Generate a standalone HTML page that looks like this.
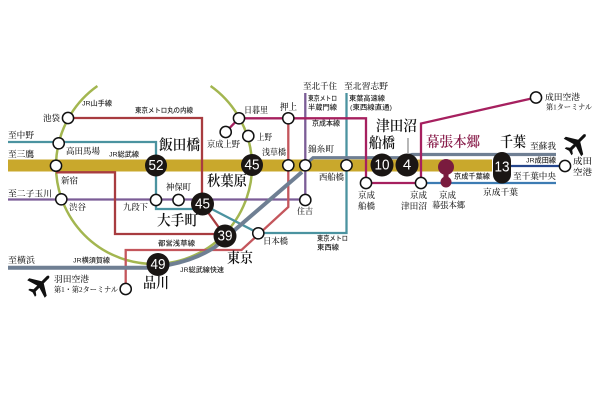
<!DOCTYPE html>
<html><head><meta charset="utf-8"><style>
html,body{margin:0;padding:0;background:#fff}
svg{display:block}
text{font-family:"Liberation Serif","Noto Serif CJK JP",serif;fill:#1a1a1a;dominant-baseline:central;font-size:8.5px;font-weight:500}
.s{font-family:"Liberation Sans","Noto Sans CJK JP",sans-serif;font-size:6.8px;font-weight:500;fill:#222}
.b{font-size:14.5px;font-weight:600;fill:#111}
.n{font-family:"Liberation Sans",sans-serif;fill:#fff;font-size:15px;text-anchor:middle;font-weight:400}
circle.w{fill:#fff;stroke:#111;stroke-width:1.5}
circle.k{fill:#1a1614}
.l{fill:none;stroke-linejoin:miter}
</style></head><body>
<svg width="600" height="400" viewBox="0 0 600 400" xmlns="http://www.w3.org/2000/svg">
<rect width="600" height="400" fill="#fff"/>
<rect x="8" y="159.5" width="484" height="12" fill="#c9a82c"/>
<path class="l" d="M97.4 86A98 98 0 1 0 210.6 86" stroke="#a3b650" stroke-width="2.5"/>
<path class="l" d="M8 142H156V209H195" stroke="#4b93a0" stroke-width="2.3"/>
<path class="l" d="M202 204L258 233H346.5V93" stroke="#4b93a0" stroke-width="2.3"/>
<path class="l" d="M8 199.5H305.3M305.3 93V199.5" stroke="#7b5c96" stroke-width="2.3"/>
<path class="l" d="M68 118H202V204L225 236" stroke="#a83c40" stroke-width="2.3"/>
<path class="l" d="M56 172.3H115V234H225" stroke="#a83c40" stroke-width="2.3"/>
<path class="l" d="M125.7 289V250H241.5L288.3 207V118" stroke="#c4565c" stroke-width="2.3"/>
<path class="l" d="M8 267.7H150" stroke="#6f7f93" stroke-width="4"/>
<path class="l" d="M168 265Q195 260 215 247L302 172" stroke="#6f7f93" stroke-width="4"/>
<path class="l" d="M305 165L313 157.7H400L412 154.5H556" stroke="#6f7f93" stroke-width="3.2"/>
<path class="l" d="M421 183H556" stroke="#3d7cb3" stroke-width="2.2"/>
<path class="l" d="M510 166H565" stroke="#25468c" stroke-width="2.2"/>
<path class="l" d="M225.7 132L239 118.3H366V183H421" stroke="#a6205f" stroke-width="2.3"/>
<path class="l" d="M421 183V123.5L536 97.5" stroke="#a6205f" stroke-width="2.3"/>
<path d="M408 138V153" stroke="#333" stroke-width="0.7"/>
<circle cx="446" cy="167" r="8" fill="#7a1b3e"/><circle cx="446" cy="182" r="5.5" fill="#7a1b3e"/><rect x="443.5" y="172" width="5" height="8" fill="#7a1b3e"/>
<rect x="493" y="152" width="18" height="31.5" rx="9" fill="#1a1614"/>
<g>
<circle class="k" cx="156" cy="165.5" r="11"/><circle class="k" cx="252" cy="165" r="11"/><circle class="k" cx="202.5" cy="204" r="11.5"/><circle class="k" cx="225" cy="236" r="11.5"/><circle class="k" cx="158" cy="264.5" r="11.5"/><circle class="k" cx="382" cy="165" r="11.5"/><circle class="k" cx="407" cy="165" r="11.5"/>
<text class="n" x="156" y="165.5" textLength="15" lengthAdjust="spacingAndGlyphs">52</text>
<text class="n" x="252" y="165" textLength="15" lengthAdjust="spacingAndGlyphs">45</text>
<text class="n" x="202.5" y="204" textLength="15" lengthAdjust="spacingAndGlyphs">45</text>
<text class="n" x="225" y="236" textLength="15" lengthAdjust="spacingAndGlyphs">39</text>
<text class="n" x="158" y="264.5" textLength="15" lengthAdjust="spacingAndGlyphs">49</text>
<text class="n" x="382" y="165" textLength="15" lengthAdjust="spacingAndGlyphs">10</text>
<text class="n" x="407" y="165">4</text>
<text class="n" x="502" y="167" textLength="15" lengthAdjust="spacingAndGlyphs">13</text>
</g>
<g>
<circle class="w" cx="68" cy="118" r="5.6"/><circle class="w" cx="58.7" cy="143.3" r="5.6"/><circle class="w" cx="56" cy="165.7" r="5.6"/><circle class="w" cx="61.3" cy="199.3" r="5.6"/><circle class="w" cx="156" cy="200" r="5.6"/><circle class="w" cx="178.5" cy="200" r="5.6"/><circle class="w" cx="239" cy="118.3" r="5.6"/><circle class="w" cx="225.7" cy="132" r="5.6"/><circle class="w" cx="248.3" cy="136" r="5.6"/><circle class="w" cx="288.3" cy="118.3" r="5.6"/><circle class="w" cx="288.3" cy="165.3" r="5.6"/><circle class="w" cx="305.3" cy="165.3" r="5.6"/><circle class="w" cx="346.5" cy="165.3" r="5.6"/><circle class="w" cx="366" cy="183" r="5.6"/><circle class="w" cx="421" cy="183" r="5.6"/><circle class="w" cx="305.3" cy="200" r="5.6"/><circle class="w" cx="258.3" cy="233.3" r="5.6"/><circle class="w" cx="125.7" cy="289" r="5.6"/><circle class="w" cx="536" cy="97.5" r="5.6"/><circle class="w" cx="565" cy="166" r="5.6"/>
</g>
<g fill="#111">
<path transform="translate(40 285) rotate(45) scale(0.95)" d="M-1.6-12Q0-15 1.6-12V-4L13 3V6L1.6 2.5V8L5 10.5V12.5L0 11L-5 12.5V10.5L-1.6 8V2.5L-13 6V3L-1.6-4Z"/>
<path transform="translate(576.5 143.5) rotate(45) scale(0.95)" d="M-1.6-12Q0-15 1.6-12V-4L13 3V6L1.6 2.5V8L5 10.5V12.5L0 11L-5 12.5V10.5L-1.6 8V2.5L-13 6V3L-1.6-4Z"/>
</g>
<text x="8" y="135" textLength="26" lengthAdjust="spacingAndGlyphs">至中野</text>
<text x="8" y="154" textLength="26" lengthAdjust="spacingAndGlyphs">至三鷹</text>
<text x="8" y="193.5" textLength="44" lengthAdjust="spacingAndGlyphs">至二子玉川</text>
<text x="8" y="260" textLength="27" lengthAdjust="spacingAndGlyphs">至横浜</text>
<text x="43" y="118" textLength="17" lengthAdjust="spacingAndGlyphs">池袋</text>
<text x="66" y="151" textLength="34" lengthAdjust="spacingAndGlyphs">高田馬場</text>
<text x="61" y="180.5" textLength="17" lengthAdjust="spacingAndGlyphs">新宿</text>
<text x="69" y="207" textLength="17" lengthAdjust="spacingAndGlyphs">渋谷</text>
<text x="123" y="207" textLength="25" lengthAdjust="spacingAndGlyphs">九段下</text>
<text x="166" y="187" textLength="25" lengthAdjust="spacingAndGlyphs">神保町</text>
<text class="s" x="82" y="104" textLength="30" lengthAdjust="spacingAndGlyphs">JR山手線</text>
<text class="s" x="135" y="111" textLength="58" lengthAdjust="spacingAndGlyphs">東京メトロ丸の内線</text>
<text class="s" x="109" y="155" textLength="30" lengthAdjust="spacingAndGlyphs">JR総武線</text>
<text class="s" x="73" y="261" textLength="37" lengthAdjust="spacingAndGlyphs">JR横須賀線</text>
<text class="s" x="158" y="244" textLength="37" lengthAdjust="spacingAndGlyphs">都営浅草線</text>
<text class="s" x="180" y="270.7" textLength="44" lengthAdjust="spacingAndGlyphs">JR総武線快速</text>
<text class="b" x="159" y="146" textLength="41" lengthAdjust="spacingAndGlyphs">飯田橋</text>
<text class="b" x="207" y="182" textLength="40" lengthAdjust="spacingAndGlyphs">秋葉原</text>
<text class="b" x="157" y="221.7" textLength="41" lengthAdjust="spacingAndGlyphs">大手町</text>
<text class="b" x="227" y="259" textLength="26" lengthAdjust="spacingAndGlyphs">東京</text>
<text class="b" x="143" y="284" textLength="26" lengthAdjust="spacingAndGlyphs">品川</text>
<text x="54" y="279" textLength="35" lengthAdjust="spacingAndGlyphs">羽田空港</text>
<text x="54" y="289.5" style="font-size:7.5px" textLength="64" lengthAdjust="spacingAndGlyphs">第1・第2ターミナル</text>
<text x="244" y="110" textLength="24" lengthAdjust="spacingAndGlyphs">日暮里</text>
<text x="257" y="137" textLength="15" lengthAdjust="spacingAndGlyphs">上野</text>
<text x="207" y="144" textLength="33" lengthAdjust="spacingAndGlyphs">京成上野</text>
<text x="280" y="107" style="font-size:9px" textLength="17" lengthAdjust="spacingAndGlyphs">押上</text>
<text x="262" y="152" textLength="24" lengthAdjust="spacingAndGlyphs">浅草橋</text>
<text x="308" y="149" textLength="26" lengthAdjust="spacingAndGlyphs">錦糸町</text>
<text x="303" y="86" style="font-size:8.5px" textLength="34" lengthAdjust="spacingAndGlyphs">至北千住</text>
<text x="344" y="86" style="font-size:8.5px" textLength="44" lengthAdjust="spacingAndGlyphs">至北習志野</text>
<text class="s" x="308" y="99" textLength="29" lengthAdjust="spacingAndGlyphs">東京メトロ</text>
<text class="s" x="308" y="108" textLength="29" lengthAdjust="spacingAndGlyphs">半蔵門線</text>
<text class="s" x="349" y="99" textLength="36" lengthAdjust="spacingAndGlyphs">東葉高速線</text>
<text class="s" x="350" y="108" textLength="42" lengthAdjust="spacingAndGlyphs">(東西線直通)</text>
<text class="s" x="312" y="124" textLength="28" lengthAdjust="spacingAndGlyphs">京成本線</text>
<text x="319" y="177" textLength="25" lengthAdjust="spacingAndGlyphs">西船橋</text>
<text class="b" x="376" y="127" textLength="41" lengthAdjust="spacingAndGlyphs">津田沼</text>
<text class="b" x="369" y="144" textLength="26" lengthAdjust="spacingAndGlyphs">船橋</text>
<text x="358" y="195" textLength="17" lengthAdjust="spacingAndGlyphs">京成</text>
<text x="358" y="206" textLength="17" lengthAdjust="spacingAndGlyphs">船橋</text>
<text x="410" y="195" textLength="17" lengthAdjust="spacingAndGlyphs">京成</text>
<text x="401" y="206" textLength="26" lengthAdjust="spacingAndGlyphs">津田沼</text>
<text x="439" y="195" textLength="17" lengthAdjust="spacingAndGlyphs">京成</text>
<text x="432" y="205" textLength="33" lengthAdjust="spacingAndGlyphs">幕張本郷</text>
<text class="s" x="454" y="177" textLength="36" lengthAdjust="spacingAndGlyphs">京成千葉線</text>
<text class="b" x="426" y="143" style="fill:#8a1f4c" textLength="54" lengthAdjust="spacingAndGlyphs">幕張本郷</text>
<text class="b" x="500" y="143" textLength="26" lengthAdjust="spacingAndGlyphs">千葉</text>
<text x="530" y="146" textLength="26" lengthAdjust="spacingAndGlyphs">至蘇我</text>
<text class="s" x="526" y="161" textLength="30" lengthAdjust="spacingAndGlyphs">JR成田線</text>
<text x="513" y="176" textLength="43" lengthAdjust="spacingAndGlyphs">至千葉中央</text>
<text x="483" y="192" textLength="35" lengthAdjust="spacingAndGlyphs">京成千葉</text>
<text x="573" y="161" textLength="19" lengthAdjust="spacingAndGlyphs">成田</text>
<text x="573" y="172" textLength="19" lengthAdjust="spacingAndGlyphs">空港</text>
<text x="545" y="97" textLength="35" lengthAdjust="spacingAndGlyphs">成田空港</text>
<text x="546" y="107" style="font-size:7.5px" textLength="46" lengthAdjust="spacingAndGlyphs">第1ターミナル</text>
<text x="263" y="241" textLength="25" lengthAdjust="spacingAndGlyphs">日本橋</text>
<text class="s" x="317" y="239" textLength="31" lengthAdjust="spacingAndGlyphs">東京メトロ</text>
<text class="s" x="317" y="248" textLength="22" lengthAdjust="spacingAndGlyphs">東西線</text>
<text x="297" y="211" textLength="16" lengthAdjust="spacingAndGlyphs">住吉</text>
</svg>
</body></html>
